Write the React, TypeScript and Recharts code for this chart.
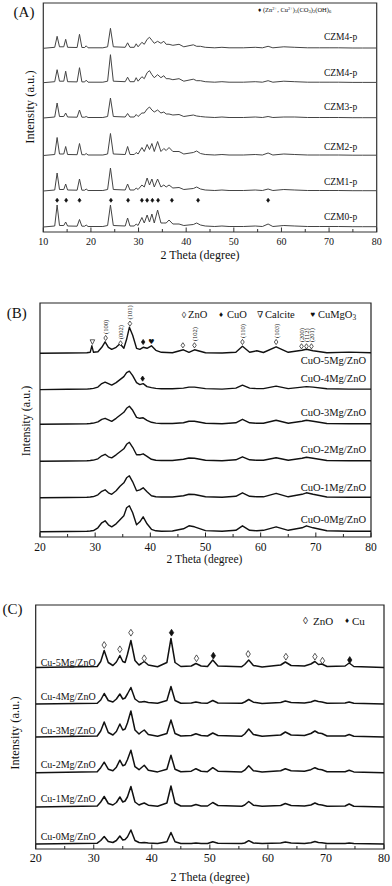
import React from "react";
import { ComposedChart, Line, Scatter, XAxis, YAxis, ReferenceArea } from "recharts";

const serif = '"Liberation Serif", "DejaVu Serif", serif';

// ---------- (A) precursors ----------
const aTheta = [
  10, 12.4, 12.9, 13.4, 14.3, 14.7, 15.1, 17.1, 17.6, 18.1,
  18.7, 19.0, 19.4, 22.5, 23.5, 24.1, 24.7, 27.2, 27.7, 28.2,
  29.1, 29.5, 29.9, 30.7, 31.2, 31.8, 32.3, 32.8, 33.3, 34.0,
  34.7, 35.3, 35.8, 36.4, 37.2, 38.5, 39.5, 41.5, 42.2, 43.0,
  44.0, 46.0, 47.5, 49.0, 52.0, 54.5, 56.0, 57.2, 58.2, 60.5,
  62.8, 65.5, 68.0, 70.0, 72.0, 75.0, 77.0, 80.0,
];
const aNames = ["CZM4-p", "CZM4-p", "CZM3-p", "CZM2-p", "CZM1-p", "CZM0-p"];
const czm4pTop = [
  0, 1, 12, 1.5, 1.5, 9, 1, 0.8, 14, 0.8,
  0.8, 2.5, 0.5, 0.5, 1.5, 20, 1.5, 1, 5.5, 1,
  1, 4.5, 1.5, 6, 4, 9, 11, 8, 5, 7,
  5, 7, 4, 4, 3, 4, 1.5, 3.5, 2, 2,
  1, 0.5, 1, 0.5, 0.5, 1, 0.5, 2, 0.5, 1.5,
  1, 0.5, 0.5, 0.5, 0.5, 0.3, 0.3, 0.3,
];
const czm4p = [
  0, 1, 13, 1.5, 1.5, 11.5, 1, 0.8, 15, 0.8,
  0.8, 2.5, 0.5, 0.5, 1.5, 28, 1.5, 1, 5.5, 1,
  1, 5, 1.5, 6, 4, 10, 12, 8, 5, 8,
  5, 7, 4, 4, 3, 4, 1.5, 3.5, 2, 2,
  1, 0.5, 1, 0.5, 0.5, 1, 0.5, 2, 0.5, 1.5,
  1, 0.5, 0.5, 0.5, 0.5, 0.3, 0.3, 0.3,
];
const czm3p = [
  0, 1, 15, 1.5, 1.5, 5, 1, 0.8, 8, 0.8,
  0.8, 1.5, 0.5, 0.5, 1.5, 20, 1.5, 1, 4.5, 1,
  1, 3.5, 1.5, 5, 5, 9, 11, 8, 6, 8,
  5, 6, 4, 4, 3, 3.5, 1.5, 3, 2, 1.5,
  1, 0.5, 1, 0.5, 0.5, 1, 0.5, 1.5, 0.5, 1,
  1, 0.5, 0.5, 0.5, 0.5, 0.3, 0.3, 0.3,
];
const czm2p = [
  0, 1, 18, 1.5, 1.5, 9, 1, 0.8, 12, 0.8,
  0.8, 2, 0.5, 0.5, 1.5, 22, 1.5, 1, 9, 1,
  1, 3, 1.5, 8, 4, 11, 6, 12, 4, 14,
  4, 7, 5, 8, 4, 4, 1.5, 3, 4.5, 2,
  1, 0.5, 1, 0.5, 0.5, 1, 0.5, 2.5, 0.5, 1.5,
  1, 0.5, 0.5, 0.5, 0.5, 0.3, 0.3, 0.3,
];
const czm1p = [
  0, 1, 18, 1.5, 1.5, 7, 1, 0.8, 12, 0.8,
  0.8, 2, 0.5, 0.5, 1.5, 23, 1.5, 1, 7, 1,
  1, 3, 1.5, 6, 4, 13, 6, 12, 4, 12,
  4, 6, 4, 6, 3, 3.5, 1.5, 2.5, 4, 2,
  1, 0.5, 1, 0.5, 0.5, 1, 0.5, 2, 0.5, 1.5,
  1, 0.5, 0.5, 0.5, 0.5, 0.3, 0.3, 0.3,
];
const czm0p = [
  0, 1, 22, 1.5, 1.5, 5, 1, 0.8, 7.5, 0.8,
  0.8, 2, 0.5, 0.5, 1.5, 22, 1.5, 1, 9, 1,
  1, 3, 1.5, 9.5, 4, 12, 5, 13, 4, 17,
  4, 4, 4, 7, 3, 3, 1.5, 2.5, 4, 2,
  1, 0.5, 1, 0.5, 0.5, 1, 0.5, 3, 0.5, 1.5,
  1, 0.5, 0.5, 0.5, 0.5, 0.3, 0.3, 0.3,
];
const aPhaseTheta = [12.9, 14.8, 17.6, 24.2, 27.8, 30.7, 31.8, 32.9, 34.1, 37.0, 42.5, 57.2];
const aTicks = [10, 15, 20, 25, 30, 35, 40, 45, 50, 55, 60, 65, 70, 75, 80];

// ---------- (B) calcined CuO-xMg/ZnO ----------
const bTheta = [
  20, 25, 28.5, 29.1, 29.4, 29.7, 30.5, 31.2, 31.8, 32.4,
  33.0, 33.8, 34.5, 35.2, 35.7, 36.2, 36.8, 37.5, 38.1, 38.7,
  39.4, 40.2, 41.0, 42.0, 44.0, 46.0, 47.0, 48.0, 50.0, 53.0,
  55.5, 56.7, 58.0, 59.3, 60.5, 62.8, 65.0, 67.5, 68.3, 69.5,
  72.0, 76.0, 80.0,
];
const bNames = ["CuO-5Mg/ZnO", "CuO-4Mg/ZnO", "CuO-3Mg/ZnO", "CuO-2Mg/ZnO", "CuO-1Mg/ZnO", "CuO-0Mg/ZnO"];
const cuo5 = [
  0, 0.3, 0.5, 1, 7.5, 1, 1.5, 6, 11.5, 6,
  4, 6, 9.5, 5, 14, 26, 18, 5, 4, 6,
  5, 7.5, 3, 1, 0.5, 3.5, 1, 3.5, 0.5, 0.3,
  1, 7, 1, 2.5, 0.8, 6.5, 1, 3, 4, 2.5,
  0.5, 1.2, 0.5,
];
const cuo4 = [
  0, 0.3, 0.5, 0.8, 1, 1.2, 2.5, 6, 7.5, 6,
  4.5, 7, 10, 13, 17, 18.5, 14, 7, 5, 6,
  3, 2, 1.2, 0.8, 0.8, 1.5, 2.5, 2.5, 1, 0.5,
  1.5, 4.5, 1.5, 1, 1, 3.5, 1, 2.5, 3, 2.5,
  0.8, 0.5, 0.5,
];
const cuo3 = [
  0, 0.3, 0.5, 0.8, 1, 1.2, 2.5, 5, 6, 4.5,
  3, 6, 9, 12, 16, 18, 14, 7, 6, 6.5,
  4, 2, 1.2, 0.8, 0.8, 1.5, 3, 3, 1, 0.5,
  1.5, 5, 1.5, 1, 1, 4, 1, 3, 4, 3,
  0.8, 0.5, 0.5,
];
const cuo2 = [
  0, 0.3, 0.5, 0.8, 1, 1.2, 2.5, 5.5, 7, 4.5,
  3.5, 6.5, 9.5, 12.5, 17, 19, 14, 6.5, 6.5, 7.5,
  5, 2, 1, 0.8, 0.8, 2, 3.3, 3, 1, 0.5,
  1.5, 4.5, 1.5, 1, 1, 3.5, 1, 3, 4, 3,
  0.8, 0.5, 0.5,
];
const cuo1 = [
  0, 0.3, 0.5, 0.8, 1, 1.2, 3, 6.5, 8, 5,
  3.5, 7, 11.5, 15, 20, 22, 16, 7, 8, 10,
  6, 2, 1, 0.8, 0.8, 2, 3.5, 3.3, 1, 0.5,
  1.5, 5, 1.5, 1, 1, 4.5, 1, 3.5, 5, 3.5,
  0.8, 0.5, 0.5,
];
const cuo0 = [
  0, 0.3, 0.5, 0.8, 1, 1.2, 4, 9, 11, 7,
  5, 8, 12, 16, 24, 26, 19, 7, 10, 15,
  8, 2.5, 1, 0.5, 0.8, 3, 6, 5, 1.2, 0.5,
  1.5, 6, 1.5, 1, 1.5, 5, 1.5, 4, 6, 4,
  1, 0.5, 0.5,
];
const bPeakTheta = [29.5, 31.9, 34.6, 36.3, 38.7, 40.2, 45.9, 48.0, 56.7, 62.8, 67.4, 68.3, 69.2, 38.6];
const bPeakPhase = ["v", "o", "o", "o", "d", "h", "o", "o", "o", "o", "o", "o", "o", "d"];
const bPeakHkl = ["", "(100)", "(002)", "(101)", "", "", "", "(102)", "(110)", "(103)", "(200)", "(112)", "(201)", ""];
const bTicks = [20, 25, 30, 35, 40, 45, 50, 55, 60, 65, 70, 75, 80];

// ---------- (C) reduced Cu-xMg/ZnO ----------
const cTheta = [
  20, 30.6, 31.2, 31.8, 32.5, 33.3, 33.9, 34.5, 35.0, 35.4,
  35.8, 36.4, 37.1, 37.8, 38.2, 38.7, 39.4, 41.0, 42.6, 43.3,
  44.0, 45.0, 46.8, 47.6, 48.5, 49.6, 50.5, 51.4, 55.5, 56.0,
  56.7, 57.5, 59.0, 62.2, 63.0, 64.0, 66.3, 67.4, 68.1, 68.7,
  69.3, 70.2, 73.3, 74.0, 74.8, 80.0,
];
const cNames = ["Cu-5Mg/ZnO", "Cu-4Mg/ZnO", "Cu-3Mg/ZnO", "Cu-2Mg/ZnO", "Cu-1Mg/ZnO", "Cu-0Mg/ZnO"];
const cu5 = [
  0, 1, 6, 17, 5, 2, 5.5, 12, 6, 5,
  13, 27, 7, 2.5, 4, 6, 2.5, 0.8, 5, 29,
  5, 1, 1.5, 4, 1.5, 1, 7.5, 1.5, 0.8, 3,
  7.5, 2, 0.5, 2.5, 5.5, 2, 1.5, 3.5, 6, 3,
  3.5, 1, 1.5, 4.5, 1, 0,
];
const cu4 = [
  0, 0.8, 4, 10.5, 3.5, 2, 5, 10, 5, 6,
  10, 16.5, 5, 2, 2, 2.5, 1.5, 0.8, 3.5, 17.5,
  3.5, 0.8, 1, 2, 1, 0.8, 3.5, 1, 0.8, 2,
  4.5, 1.8, 0.5, 1.5, 3, 1.5, 1, 2, 3.5, 2.5,
  2, 0.8, 1, 2, 0.8, 0,
];
const cu3 = [
  0, 1, 6, 15, 4.5, 2, 5.5, 13, 7, 8,
  14, 26, 7, 3, 5, 7, 2.5, 0.8, 3.5, 17,
  3.5, 1, 1.5, 3.3, 1.5, 1, 4, 1.5, 0.8, 3,
  8, 2.5, 0.8, 2, 5, 2, 1.5, 3.5, 6, 4,
  3.5, 1, 1, 2.5, 0.8, 0,
];
const cu2 = [
  0, 1, 5, 10.5, 3.5, 2, 5.5, 12.5, 7, 8,
  13, 22.5, 6, 3, 5, 7.5, 2.5, 0.8, 3.5, 17.5,
  3.5, 1, 1.5, 4, 1.5, 1, 5, 1.5, 0.8, 2.5,
  7, 2, 0.8, 2, 4, 2, 1.5, 3, 5, 3.5,
  3, 1, 1, 2.5, 0.8, 0,
];
const cu1 = [
  0, 1, 5, 10.5, 3.5, 2, 4.5, 10, 5, 6,
  10, 20.5, 5, 2, 3, 4, 1.8, 0.8, 4, 21,
  4, 1, 1, 2.5, 1, 1, 4.5, 1.5, 0.8, 2,
  5.5, 1.8, 0.8, 1.5, 3.5, 1.5, 1, 2, 4, 2.5,
  2, 0.8, 1, 3, 0.8, 0,
];
const cu0 = [
  0, 0.8, 3.5, 7.5, 2.5, 1.5, 3.5, 8, 4, 4.5,
  7, 14, 3.5, 1.5, 1.2, 1.5, 1, 0.5, 2.2, 11.5,
  2.2, 0.5, 0.5, 1, 0.5, 0.5, 2.3, 0.8, 0.5, 1,
  3.3, 1, 0.5, 1, 2, 1, 0.5, 1.2, 2.5, 1.5,
  1.2, 0.5, 0.5, 1, 0.5, 0,
];
const cPeakTheta = [31.8, 34.5, 36.4, 38.7, 43.4, 47.7, 50.6, 56.6, 63.1, 68.1, 69.4, 74.1];
const cPeakPhase = ["o", "o", "o", "o", "d", "o", "d", "o", "o", "o", "o", "d"];
const cTicks = bTicks;

// ---------- layout ----------
type Layout = {
  plotLeft: number; plotRight: number; plotTop: number; plotBottom: number;
  domain: [number, number]; ticks: number[];
  baselines: number[]; labelTheta: number; labelAnchor: "start" | "end"; labelDy: number[]; labelFont: number;
  tickFont: number; tickGap: number; stroke: string; strokeWidth: number; frame: string;
};

const layoutA: Layout = {
  plotLeft: 43.3, plotRight: 376.7, plotTop: 3, plotBottom: 232, domain: [10, 80], ticks: aTicks,
  baselines: [183.7, 149.3, 114, 76.5, 41, 5], labelTheta: 75.9, labelAnchor: "end",
  labelDy: [11.3, 10, 11, 9, 9, 10.3], labelFont: 9.5, tickFont: 10, tickGap: 9,
  stroke: "#444", strokeWidth: 1, frame: "#333",
};
const layoutB: Layout = {
  plotLeft: 40, plotRight: 371, plotTop: 302.7, plotBottom: 536.7, domain: [20, 80], ticks: bTicks,
  baselines: [183.7, 147.4, 112.7, 75.7, 39.2, 5.2], labelTheta: 79.1, labelAnchor: "end",
  labelDy: [-7, 11, 12.3, 11.7, 10.8, 12.2], labelFont: 10.5, tickFont: 11.5, tickGap: 10,
  stroke: "#111", strokeWidth: 1.4, frame: "#222",
};
const layoutC: Layout = {
  plotLeft: 35.7, plotRight: 384, plotTop: 605, plotBottom: 849, domain: [20, 80], ticks: cTicks,
  baselines: [181.5, 145, 112, 76.3, 42, 5], labelTheta: 20.86, labelAnchor: "start",
  labelDy: [5.2, 7.3, 7, 8.4, 8.7, 8], labelFont: 10, tickFont: 12, tickGap: 8.5,
  stroke: "#111", strokeWidth: 1.5, frame: "#222",
};

// vertical placement of the phase marks (plot units above the frame bottom)
const aMarkY = aPhaseTheta.map(() => 31.7);
const bMarkY = [195, 199, 193.7, 213.4, 195, 195, 191.7, 191.7, 195, 195, 190.7, 190.7, 190.7, 158.4];
const cMarkY = [204, 199.7, 216.3, 190.7, 216.3, 190.7, 193.3, 195, 192.3, 192.3, 188.3, 189];

type MarkRow = { t: number; v: number; kind: string; hkl: string };

function AxisTick(props: any) {
  const { x, y, payload, L } = props;
  const major = payload.value % 10 === 0;
  return (
    <g>
      <line x1={x} x2={x} y1={y} y2={y - (major ? 4.5 : 3)} stroke={L.frame} strokeWidth={1} />
      {major && (
        <text x={x} y={y + L.tickGap} textAnchor="middle" dominantBaseline="central"
          fontFamily={serif} fontSize={L.tickFont} fill="#111">
          {payload.value}
        </text>
      )}
    </g>
  );
}

function PeakMark(props: any) {
  const { cx, cy, payload, w, h } = props;
  const { kind, hkl } = payload as MarkRow;
  let sym: React.ReactNode = null;
  if (kind === "o" || kind === "d") {
    sym = (
      <path d={`M${cx} ${cy - h}L${cx + w} ${cy}L${cx} ${cy + h}L${cx - w} ${cy}Z`}
        fill={kind === "d" ? "#111" : "#fff"} stroke="#111" strokeWidth={0.7} />
    );
  } else if (kind === "v") {
    sym = <path d={`M${cx - 2.3} ${cy - 2.2}L${cx + 2.3} ${cy - 2.2}L${cx} ${cy + 2.4}Z`} fill="#fff" stroke="#111" strokeWidth={0.7} />;
  } else if (kind === "h") {
    sym = (
      <text x={cx} y={cy} textAnchor="middle" dominantBaseline="central" fontFamily='"DejaVu Sans"' fontSize={7} fill="#111">
        ♥
      </text>
    );
  }
  return (
    <g>
      {sym}
      {hkl && (
        <text x={cx} y={cy - h - 1.5} transform={`rotate(-90 ${cx} ${cy - h - 1.5})`} textAnchor="start"
          dominantBaseline="central" fontFamily={serif} fontSize={6.5} fill="#111">
          {hkl}
        </text>
      )}
    </g>
  );
}

function TraceLabel(props: any) {
  const { cx, cy, payload, L } = props;
  return (
    <text x={cx} y={cy} textAnchor={L.labelAnchor} dominantBaseline="central" fontFamily={serif}
      fontSize={L.labelFont} fill="#111">
      {payload.name}
    </text>
  );
}

function Panel({ L, theta, series, names, marks, markSize }: {
  L: Layout; theta: number[]; series: number[][]; names: string[]; marks: MarkRow[]; markSize: [number, number];
}) {
  const H = L.plotBottom - L.plotTop;
  const top = L.plotTop - 10;
  const height = H + 10 + 30;
  const rows = theta.map((t, i) => {
    const row: Record<string, number> = { t };
    series.forEach((s, k) => {
      row["s" + k] = L.baselines[k] + s[i];
    });
    return row;
  });
  const labels = names.map((name, k) => ({ t: L.labelTheta, v: L.baselines[k] + L.labelDy[k], name }));
  return (
    <div style={{ position: "absolute", left: 0, top, width: 392, height }}>
      <ComposedChart width={392} height={height} data={rows}
        margin={{ top: 10, right: 392 - L.plotRight, bottom: 0, left: L.plotLeft }}>
        <XAxis dataKey="t" type="number" domain={L.domain} ticks={L.ticks} interval={0} allowDataOverflow
          axisLine={false} tickLine={false} tickSize={0} tickMargin={0} height={30}
          tick={(p: any) => <AxisTick {...p} L={L} />} />
        <YAxis type="number" domain={[0, H]} hide allowDataOverflow />
        <ReferenceArea x1={L.domain[0]} x2={L.domain[1]} y1={0} y2={H} fill="none" fillOpacity={0}
          stroke={L.frame} strokeWidth={1.2} />
        {series.map((_, k) => (
          <Line key={k} dataKey={"s" + k} type="linear" stroke={L.stroke} strokeWidth={L.strokeWidth}
            strokeLinejoin="round" dot={false} activeDot={false} isAnimationActive={false} />
        ))}
        <Scatter data={marks} dataKey="v" isAnimationActive={false}
          shape={(p: any) => <PeakMark {...p} w={markSize[0]} h={markSize[1]} />} />
        <Scatter data={labels} dataKey="v" isAnimationActive={false}
          shape={(p: any) => <TraceLabel {...p} L={L} />} />
      </ComposedChart>
    </div>
  );
}

function Txt({ x, y, size, children, rotate, anchor = "middle" }: {
  x: number; y: number; size: number; children: React.ReactNode; rotate?: number; anchor?: "start" | "middle" | "end";
}) {
  const tx = anchor === "middle" ? "-50%" : anchor === "end" ? "-100%" : "0";
  return (
    <div style={{
      position: "absolute", left: x, top: y, fontFamily: serif, fontSize: size, lineHeight: 1,
      whiteSpace: "nowrap", color: "#111",
      transform: `translate(${tx}, -50%)${rotate ? ` rotate(${rotate}deg)` : ""}`,
    }}>
      {children}
    </div>
  );
}

const sub: React.CSSProperties = { fontSize: "0.7em", verticalAlign: "-0.25em", lineHeight: 0 };
const sup: React.CSSProperties = { fontSize: "0.7em", verticalAlign: "0.45em", lineHeight: 0 };

export default function App() {
  const aMarks = aPhaseTheta.map((t, i) => ({ t, v: aMarkY[i], kind: "d", hkl: "" }));
  const bMarks = bPeakTheta.map((t, i) => ({ t, v: bMarkY[i], kind: bPeakPhase[i], hkl: bPeakHkl[i] }));
  const cMarks = cPeakTheta.map((t, i) => ({ t, v: cMarkY[i], kind: cPeakPhase[i], hkl: "" }));
  return (
    <div style={{ position: "absolute", left: 0, top: 0, width: 392, height: 886, background: "#fff", overflow: "hidden" }}>
      <Panel L={layoutA} theta={aTheta} series={[czm4pTop, czm4p, czm3p, czm2p, czm1p, czm0p]}
        names={aNames} marks={aMarks} markSize={[1.5, 2]} />
      <Panel L={layoutB} theta={bTheta} series={[cuo5, cuo4, cuo3, cuo2, cuo1, cuo0]}
        names={bNames} marks={bMarks} markSize={[1.8, 2.6]} />
      <Panel L={layoutC} theta={cTheta} series={[cu5, cu4, cu3, cu2, cu1, cu0]}
        names={cNames} marks={cMarks} markSize={[2.2, 3.4]} />

      {/* panel letters */}
      <Txt x={24} y={12} size={15}>(A)</Txt>
      <Txt x={16.7} y={313.3} size={15}>(B)</Txt>
      <Txt x={12.5} y={609.3} size={15}>(C)</Txt>

      {/* axis titles */}
      <Txt x={30} y={106.5} size={12.5} rotate={-90}>Intensity (a.u.)</Txt>
      <Txt x={26} y={421} size={12} rotate={-90}>Intensity (a.u.)</Txt>
      <Txt x={15} y={733} size={12.5} rotate={-90}>Intensity (a.u.)</Txt>
      <Txt x={200} y={255} size={12}>2 Theta (degree)</Txt>
      <Txt x={204.5} y={560} size={11.5}>2 Theta (degree)</Txt>
      <Txt x={210} y={876.7} size={12}>2 Theta (degree)</Txt>

      {/* legends */}
      <Txt x={258} y={10} size={6.5} anchor="start">
        ♦ (Zn<span style={sup}>2+</span>, Cu<span style={sup}>2+</span>)<span style={sub}>5</span>(CO<span style={sub}>3</span>)<span style={sub}>2</span>(OH)<span style={sub}>6</span>
      </Txt>
      <Txt x={181.7} y={315} size={9} anchor="start">◊</Txt>
      <Txt x={188} y={315} size={10.5} anchor="start">ZnO</Txt>
      <Txt x={219} y={315} size={8} anchor="start">♦</Txt>
      <Txt x={227} y={315} size={10.5} anchor="start">CuO</Txt>
      <Txt x={257} y={315} size={9} anchor="start">∇</Txt>
      <Txt x={265} y={315} size={10.5} anchor="start">Calcite</Txt>
      <Txt x={310.5} y={315} size={8} anchor="start">♥</Txt>
      <Txt x={318} y={315} size={10.5} anchor="start">CuMgO<span style={sub}>3</span></Txt>
      <Txt x={303} y={620.7} size={10} anchor="start">◊</Txt>
      <Txt x={313} y={620.7} size={11} anchor="start">ZnO</Txt>
      <Txt x={345} y={620.7} size={8} anchor="start">♦</Txt>
      <Txt x={352} y={620.7} size={11} anchor="start">Cu</Txt>
    </div>
  );
}
